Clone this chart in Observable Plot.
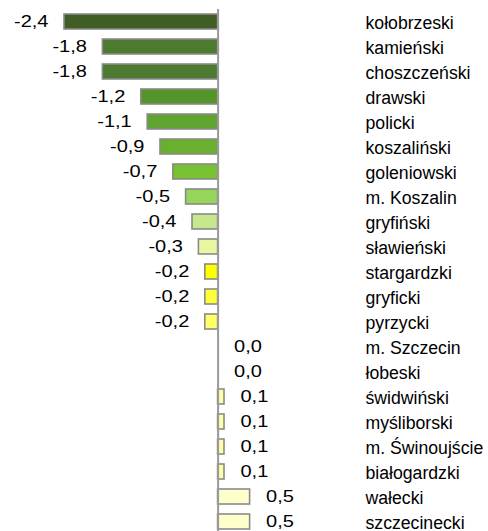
<!DOCTYPE html>
<html>
<head>
<meta charset="utf-8">
<script src="https://cdn.jsdelivr.net/npm/d3@7"></script>
<script src="https://cdn.jsdelivr.net/npm/@observablehq/plot@0.6"></script>
<style>
  html, body { margin: 0; padding: 0; background: #fff; }
  svg text { font-family: "Liberation Sans", Arial, sans-serif; }
</style>
</head>
<body>
<div id="chart"></div>
<script>
const names = ["kołobrzeski","kamieński","choszczeński","drawski","policki","koszaliński","goleniowski","m. Koszalin","gryfiński","sławieński","stargardzki","gryficki","pyrzycki","m. Szczecin","łobeski","świdwiński","myśliborski","m. Świnoujście","białogardzki","wałecki","szczecinecki"];
const values = [-2.4,-1.8,-1.8,-1.2,-1.1,-0.9,-0.7,-0.5,-0.4,-0.3,-0.2,-0.2,-0.2,0.0,0.0,0.1,0.1,0.1,0.1,0.5,0.5];
const colors = ["#3f5d25","#4c7a2e","#4c7a2e","#55942b","#5ea42e","#69b02e","#77c232","#95d65a","#c6e78d","#ebf6a3","#ffff00","#ffff38","#ffff66","#ffffff","#ffffff","#ffffa8","#ffffa8","#ffffa8","#ffffa8","#ffffcc","#ffffcc"];

const FONT = "'Liberation Sans', Arial, sans-serif";
const data = names.map((name, i) => ({name, value: values[i], color: colors[i], label: values[i].toFixed(1).replace(".", ",")}));
const neg = data.filter(d => d.value < 0);
const pos = data.filter(d => d.value >= 0);
const bars = data.filter(d => d.value !== 0);

const chart = Plot.plot({
  width: 488,
  height: 531,
  marginTop: 9,
  marginBottom: 0,
  marginLeft: 0,
  marginRight: 126,
  style: {fontFamily: FONT, color: "#000", background: "#fff"},
  x: {domain: [-2.4, 0.5], range: [64, 249.6], axis: null},
  y: {domain: names, range: [9, 534], paddingInner: 0.4, paddingOuter: 0.2, axis: null},
  marks: [
    Plot.barX(bars, {x: "value", y: "name", fill: "color", stroke: "#8a8a8a", strokeWidth: 1.6}),
    Plot.ruleX([0], {stroke: "#9a9a9a", strokeWidth: 2}),
    Plot.text(neg, {x: "value", y: "name", text: "label", textAnchor: "end", dx: -16, fontSize: 16, fontFamily: FONT, fill: "#000"}),
    Plot.text(pos, {x: "value", y: "name", text: "label", textAnchor: "start", dx: 16, fontSize: 16, fontFamily: FONT, fill: "#000"}),
    Plot.axisY({anchor: "right", tickSize: 0, tickPadding: 3, fontSize: 19, fontFamily: FONT, label: null, textAnchor: "start", dy: 1})
  ]
});

function stretch(groups, sx) {
  groups.forEach(g => {
    g.querySelectorAll("text").forEach(t => {
      let tr = t.getAttribute("transform") || "";
      const xa = t.getAttribute("x");
      if (xa !== null && isFinite(+xa) && +xa !== 0) {
        t.removeAttribute("x");
        tr = tr + ` translate(${+xa},0)`;
      }
      t.setAttribute("transform", tr + ` scale(${sx},1)`);
    });
  });
}
const allGroups = Array.from(chart.querySelectorAll(":scope > g"));
const axisGroups = allGroups.filter(g => (g.getAttribute("aria-label") || "").includes("y-axis"));
const textGroups = allGroups.filter(g => g.getAttribute("aria-label") === "text");
stretch(textGroups, 1.25);
stretch(axisGroups.filter(g => g.querySelector("text")), 0.93);

document.getElementById("chart").appendChild(chart);
</script>
</body>
</html>
